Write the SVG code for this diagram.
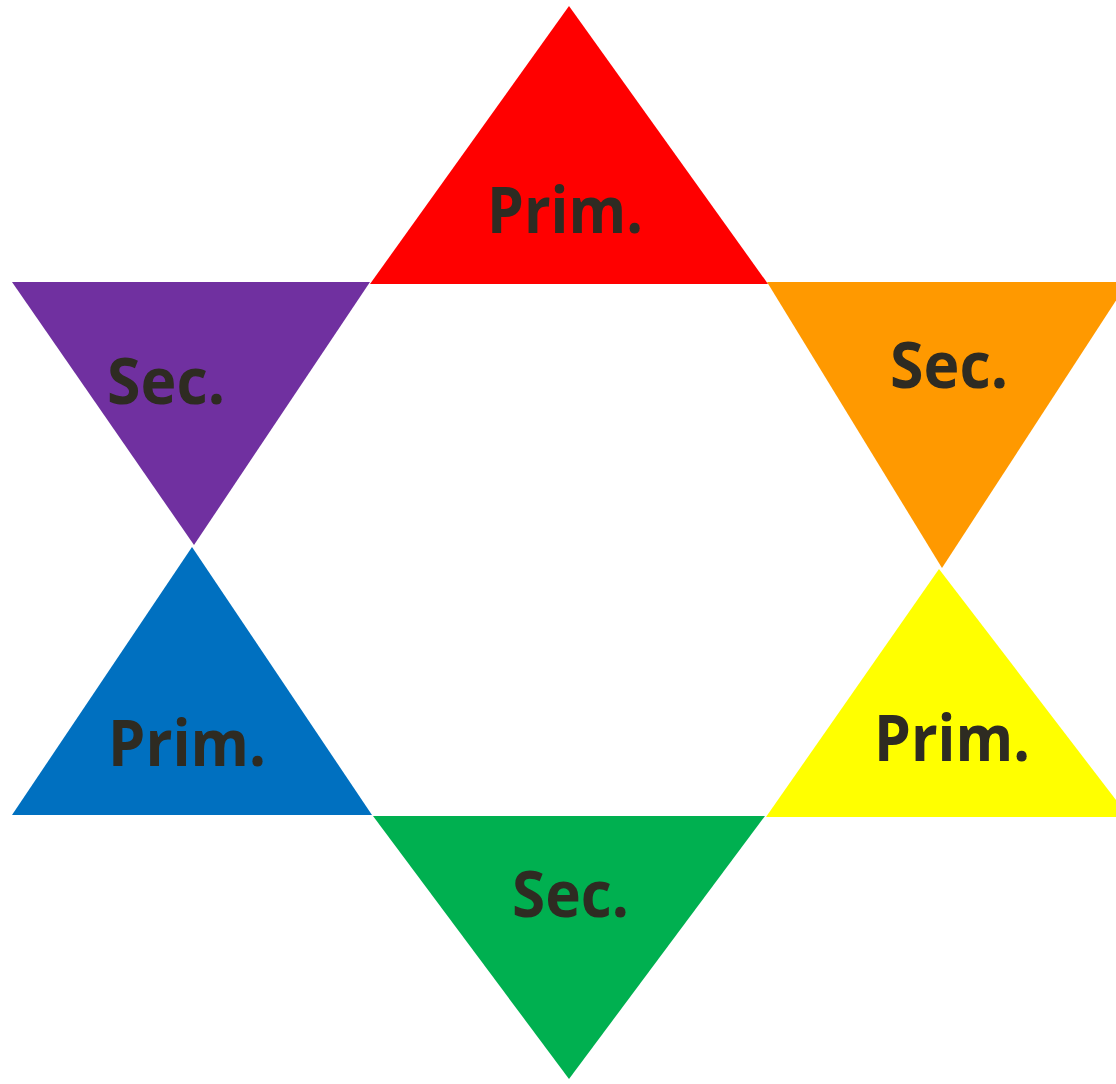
<svg xmlns="http://www.w3.org/2000/svg" width="1116" height="1084" viewBox="0 0 1116 1084">
<style>
.lbl{font-family:"Open Sans","Liberation Sans",sans-serif;font-weight:bold;font-size:64px;fill:#2E2B22}
</style>
<rect width="1116" height="1084" fill="#FFFFFF"/>
<g id="red"><polygon points="370,284 768,284 569,6" fill="#FF0000"/><text class="lbl" x="487" y="233" textLength="156" lengthAdjust="spacingAndGlyphs">Prim.</text></g>
<g id="purple"><polygon points="12,282 370,282 194,545" fill="#7030A0"/><text class="lbl" x="107" y="404" textLength="118" lengthAdjust="spacingAndGlyphs">Sec.</text></g>
<g id="orange"><polygon points="767,282 1128,282 942,568" fill="#FF9900"/><text class="lbl" x="890" y="388" textLength="118" lengthAdjust="spacingAndGlyphs">Sec.</text></g>
<g id="blue"><polygon points="12,815 372,815 192,547" fill="#0070C0"/><text class="lbl" x="108" y="766" textLength="158" lengthAdjust="spacingAndGlyphs">Prim.</text></g>
<g id="yellow"><polygon points="766,817 1129,817 939,569" fill="#FFFF00"/><text class="lbl" x="874" y="761" textLength="156" lengthAdjust="spacingAndGlyphs">Prim.</text></g>
<g id="green"><polygon points="373,816 765,816 569,1079" fill="#00B050"/><text class="lbl" x="512" y="917" textLength="117" lengthAdjust="spacingAndGlyphs">Sec.</text></g>
<g id="connectors"></g>
</svg>
